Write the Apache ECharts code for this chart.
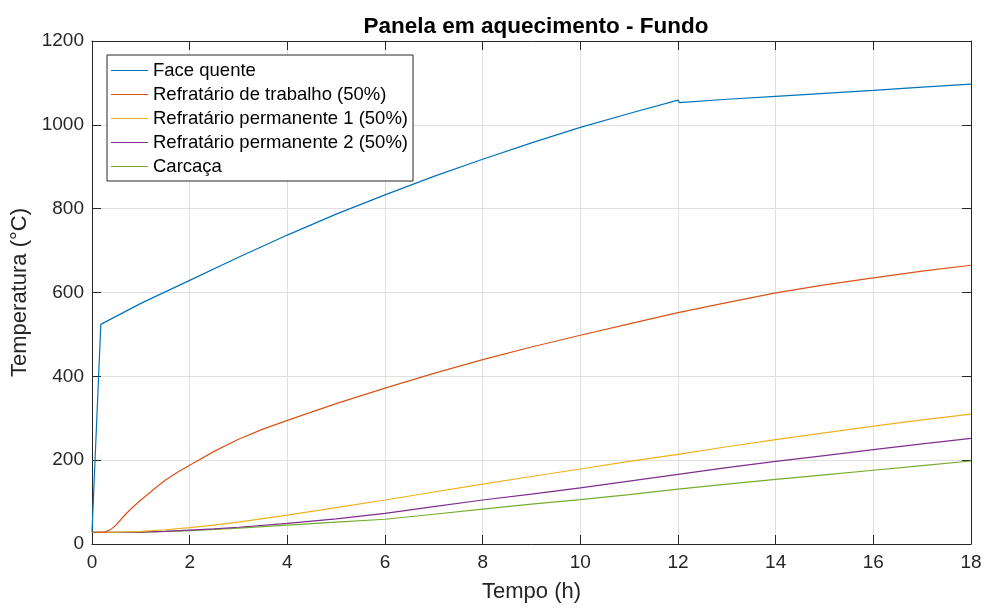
<!DOCTYPE html>
<html>
<head>
<meta charset="utf-8">
<script src="https://cdn.jsdelivr.net/npm/echarts@6/dist/echarts.min.js"></script>
<style>html,body{margin:0;padding:0;background:#fff}#c{width:985px;height:608px}</style>
</head>
<body>
<div id="c"></div>
<script>
const seriesNames = ['Face quente', 'Refratário de trabalho (50%)', 'Refratário permanente 1 (50%)', 'Refratário permanente 2 (50%)', 'Carcaça'];
const xTicks = [0, 2, 4, 6, 8, 10, 12, 14, 16, 18];
const yTicks = [0, 200, 400, 600, 800, 1000, 1200];

const faceQuenteT = [0, 0.18, 1, 2, 3, 4, 5, 6, 7, 8, 9, 10, 11, 12, 12.03, 13, 14, 15, 16, 17, 18];
const faceQuenteV = [28, 524, 574, 629, 684, 737, 787, 833, 877, 918, 957, 994, 1027, 1059, 1053, 1061, 1068, 1075, 1082, 1090, 1097];

const trabalhoT = [0, 0.25, 0.3, 0.4, 0.5, 0.64, 0.8, 1.0, 1.2, 1.32, 1.5, 1.75, 2, 2.5, 3, 3.5, 4, 5, 6, 7, 8, 9, 10, 11, 12, 13, 14, 15, 16, 17, 18];
const trabalhoV = [28, 28, 30, 36, 46, 65, 84, 105, 124, 136, 152, 171, 188, 221, 250, 274, 295, 335, 372, 407, 440, 470, 498, 525, 552, 576, 599, 618, 635, 651, 665];

const permT = [0, 0.5, 1, 1.5, 2, 2.5, 3, 4, 5, 6, 7, 8, 9, 10, 11, 12, 13, 14, 15, 16, 17, 18];
const perm1V = [28, 28, 30, 34, 39, 45, 52, 69, 87, 105, 124, 143, 161, 179, 197, 214, 232, 249, 265, 281, 296, 310];
const perm2V = [28, 28, 28.5, 30, 33, 36, 40, 49, 60, 73, 89, 105, 119, 134, 150, 166, 182, 197, 211, 225, 239, 252];
const carcacaV = [28, 28, 28.5, 30, 32, 35, 38, 45, 52, 59, 71, 83, 95, 106, 118, 131, 143, 154, 165, 176, 187, 198];

const colors = ['#0072BD', '#D95319', '#EDB120', '#7E2F8E', '#77AC30'];

function zip(t, v) { return t.map((x, i) => [x, v[i]]); }
const seriesData = [
  zip(faceQuenteT, faceQuenteV),
  zip(trabalhoT, trabalhoV),
  zip(permT, perm1V),
  zip(permT, perm2V),
  zip(permT, carcacaV)
];

const FONT = 'Liberation Sans, Arial, Helvetica, sans-serif';
const axisCol = '#262626';
const gridCol = '#e0e0e0';

const chart = echarts.init(document.getElementById('c'), null, { renderer: 'canvas' });
const baseX = { type: 'value', min: 0, max: 18, interval: 2 };
const baseY = { type: 'value', min: 0, max: 1200, interval: 200 };
const lineSt = { show: true, onZero: false, lineStyle: { color: axisCol, width: 1 } };
const tickSt = { show: true, inside: true, length: 9, lineStyle: { color: axisCol } };
chart.setOption({
  animation: false,
  backgroundColor: '#fff',
  color: colors,
  title: {
    text: 'Panela em aquecimento - Fundo',
    left: 531, top: 10, textAlign: 'center',
    textStyle: { fontFamily: FONT, fontSize: 22.5, fontWeight: 'bold', color: '#000' }
  },
  grid: { left: 92, right: 14, top: 41, bottom: 64, containLabel: false },
  legend: {
    orient: 'vertical', left: 107, top: 55,
    padding: [6, 5, 5, 4], itemGap: 5, itemWidth: 37, itemHeight: 18,
    icon: 'path://M0,0H37V1.2H0Z', symbolKeepAspect: true,
    backgroundColor: '#fff', borderColor: axisCol, borderWidth: 1, borderRadius: 0,
    textStyle: { fontFamily: FONT, fontSize: 18.5, color: '#000' },
    data: seriesNames
  },
  xAxis: [
    Object.assign({}, baseX, {
      name: 'Tempo (h)', nameLocation: 'middle', nameGap: 37,
      nameTextStyle: { fontFamily: FONT, fontSize: 22, color: axisCol },
      axisLine: lineSt, axisTick: tickSt,
      axisLabel: { fontFamily: FONT, fontSize: 19, color: axisCol, margin: 9,
        formatter: v => xTicks.includes(v) ? String(v) : '' },
      splitLine: { show: true, lineStyle: { color: gridCol, width: 1 } }
    }),
    Object.assign({}, baseX, {
      position: 'top', axisLine: lineSt, axisTick: tickSt,
      axisLabel: { show: false }, splitLine: { show: false }
    })
  ],
  yAxis: [
    Object.assign({}, baseY, {
      name: 'Temperatura (°C)', nameLocation: 'middle', nameGap: 59,
      nameTextStyle: { fontFamily: FONT, fontSize: 22, color: axisCol },
      axisLine: lineSt, axisTick: tickSt,
      axisLabel: { fontFamily: FONT, fontSize: 19, color: axisCol, margin: 8,
        formatter: v => yTicks.includes(v) ? String(v) : '' },
      splitLine: { show: true, lineStyle: { color: gridCol, width: 1 } }
    }),
    Object.assign({}, baseY, {
      position: 'right', axisLine: lineSt, axisTick: tickSt,
      axisLabel: { show: false }, splitLine: { show: false }
    })
  ],
  series: seriesNames.map((name, i) => ({
    name, type: 'line', data: seriesData[i], symbol: 'none',
    xAxisIndex: 0, yAxisIndex: 0, smooth: false,
    lineStyle: { width: 1.2, color: colors[i] },
    itemStyle: { color: colors[i] },
    z: 10 - i
  }))
});
</script>
</body>
</html>
